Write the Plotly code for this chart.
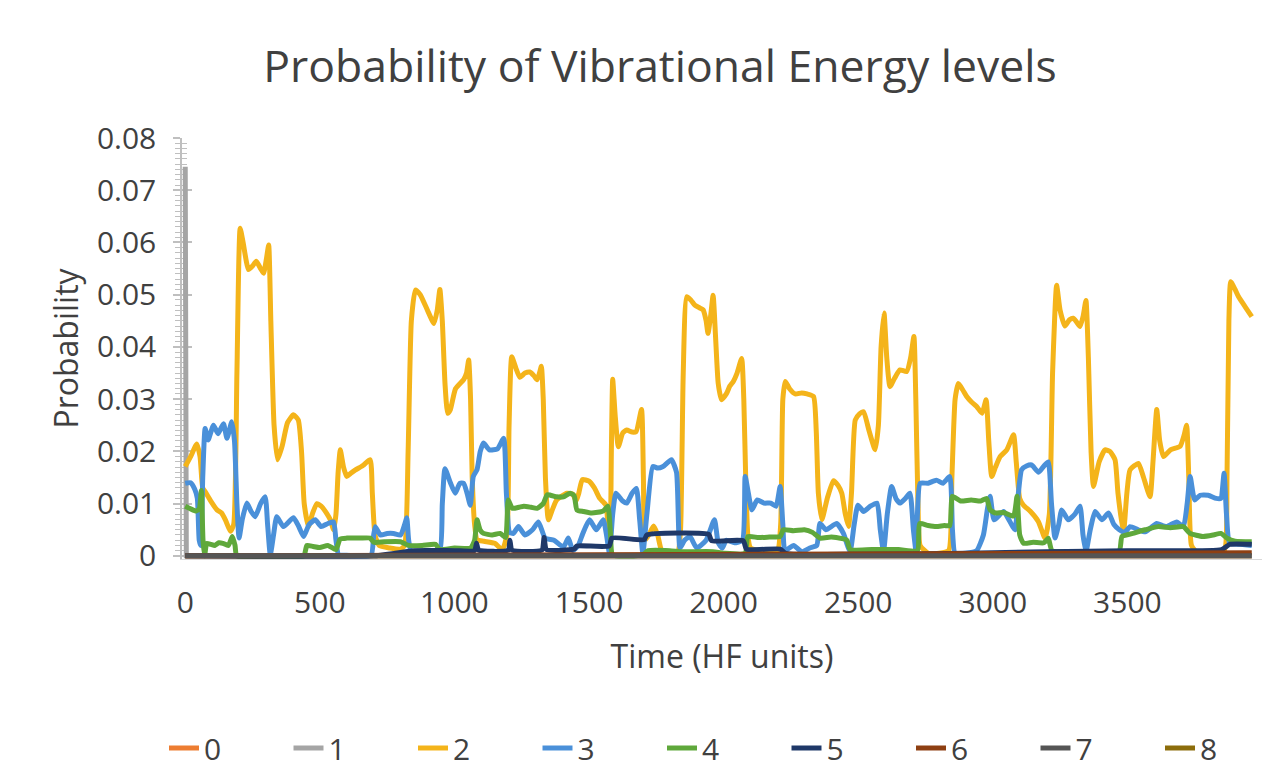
import plotly.graph_objects as go

# ---------------- data ----------------
levels = ["0", "1", "2", "3", "4", "5", "6", "7", "8"]
colors = ["#ED7D31", "#A5A5A5", "#F4B41A", "#4A90D9", "#5FA83B", "#1F3868", "#8E3F12", "#555555", "#8C6D0B"]

t_level0 = [0, 3962]
p_level0 = [0.0, 0.0]

t_level1 = [0, 4, 3962]
p_level1 = [0.0745, 0.0, 0.0]

t_level2 = [0, 20, 43, 55, 65, 75, 95, 118, 135, 150, 168, 180, 192, 204, 215, 235, 250, 264, 280, 291, 302, 310, 318, 330, 343, 360, 380, 402, 420, 432, 442, 458, 472, 489, 505, 526, 540, 551, 560, 568, 576, 588, 600, 615, 631, 660, 687, 695, 705, 720, 760, 800, 815, 828, 840, 855, 873, 900, 924, 936, 946, 955, 965, 975, 985, 1004, 1035, 1045, 1053, 1060, 1066, 1075, 1084, 1110, 1150, 1178, 1195, 1203, 1213, 1228, 1243, 1262, 1280, 1295, 1307, 1316, 1323, 1330, 1338, 1349, 1365, 1380, 1418, 1440, 1452, 1462, 1475, 1500, 1520, 1540, 1563, 1572, 1578, 1583, 1588, 1597, 1609, 1625, 1640, 1660, 1675, 1695, 1702, 1708, 1722, 1740, 1755, 1770, 1800, 1830, 1840, 1850, 1863, 1878, 1893, 1910, 1924, 1935, 1942, 1952, 1961, 1970, 1980, 1992, 2010, 2023, 2036, 2050, 2067, 2075, 2082, 2090, 2100, 2150, 2200, 2212, 2220, 2229, 2245, 2266, 2290, 2310, 2334, 2344, 2352, 2365, 2385, 2408, 2425, 2439, 2452, 2464, 2475, 2489, 2505, 2520, 2540, 2563, 2575, 2585, 2596, 2606, 2618, 2635, 2655, 2680, 2695, 2707, 2714, 2722, 2730, 2760, 2800, 2836, 2848, 2860, 2872, 2888, 2903, 2920, 2940, 2960, 2975, 2985, 2996, 3010, 3027, 3052, 3077, 3087, 3100, 3114, 3140, 3169, 3194, 3210, 3222, 3237, 3250, 3268, 3285, 3299, 3312, 3324, 3336, 3346, 3355, 3365, 3374, 3395, 3417, 3435, 3454, 3465, 3485, 3498, 3510, 3541, 3560, 3584, 3595, 3609, 3620, 3634, 3660, 3696, 3710, 3720, 3728, 3738, 3760, 3820, 3860, 3870, 3877, 3884, 3900, 3913, 3940, 3962]
p_level2 = [0.0171, 0.019, 0.0214, 0.019, 0.013, 0.0122, 0.0105, 0.0088, 0.0082, 0.0068, 0.0047, 0.006, 0.035, 0.0627, 0.060, 0.0548, 0.0555, 0.0564, 0.0550, 0.0541, 0.057, 0.0595, 0.045, 0.025, 0.0184, 0.021, 0.0255, 0.0270, 0.0260, 0.020, 0.010, 0.0056, 0.0080, 0.0100, 0.0095, 0.0081, 0.0068, 0.0050, 0.008, 0.016, 0.0203, 0.017, 0.0152, 0.0158, 0.0164, 0.0173, 0.0184, 0.012, 0.004, 0.002, 0.0015, 0.0013, 0.002, 0.02, 0.045, 0.0509, 0.0500, 0.0470, 0.0445, 0.047, 0.051, 0.045, 0.033, 0.0273, 0.028, 0.032, 0.0338, 0.035, 0.0375, 0.030, 0.015, 0.006, 0.0031, 0.0028, 0.0024, 0.0012, 0.004, 0.025, 0.0381, 0.036, 0.0342, 0.0350, 0.0352, 0.0345, 0.0337, 0.035, 0.0363, 0.030, 0.015, 0.0069, 0.009, 0.0107, 0.0120, 0.0118, 0.0105, 0.012, 0.0146, 0.0143, 0.013, 0.011, 0.0097, 0.004, 0.002, 0.02, 0.0338, 0.027, 0.0209, 0.0235, 0.0241, 0.0237, 0.0238, 0.028, 0.015, 0.003, 0.004, 0.0057, 0.004, 0.001, 0.0005, 0.0008, 0.005, 0.035, 0.0496, 0.0490, 0.048, 0.0475, 0.0471, 0.045, 0.0426, 0.046, 0.0499, 0.042, 0.033, 0.0299, 0.031, 0.0325, 0.0334, 0.035, 0.0378, 0.030, 0.015, 0.004, 0.0015, 0.0008, 0.001, 0.006, 0.030, 0.0334, 0.032, 0.031, 0.0312, 0.031, 0.0305, 0.024, 0.012, 0.0069, 0.011, 0.0144, 0.0135, 0.0120, 0.008, 0.0056, 0.012, 0.0260, 0.0272, 0.0276, 0.024, 0.0203, 0.025, 0.040, 0.0465, 0.038, 0.0324, 0.034, 0.0356, 0.0353, 0.038, 0.0420, 0.030, 0.010, 0.002, 0.0005, 0.0005, 0.001, 0.015, 0.030, 0.033, 0.0318, 0.0305, 0.0295, 0.0286, 0.0273, 0.0299, 0.022, 0.0152, 0.017, 0.019, 0.0203, 0.0232, 0.018, 0.011, 0.0097, 0.0085, 0.0066, 0.0034, 0.008, 0.035, 0.0518, 0.047, 0.0440, 0.0452, 0.0455, 0.0447, 0.0439, 0.046, 0.0489, 0.038, 0.020, 0.0133, 0.018, 0.0203, 0.020, 0.0184, 0.012, 0.0043, 0.012, 0.0165, 0.0177, 0.015, 0.0113, 0.018, 0.0280, 0.022, 0.019, 0.0203, 0.0210, 0.023, 0.0250, 0.015, 0.002, 0.0006, 0.0005, 0.001, 0.015, 0.045, 0.0525, 0.051, 0.0496, 0.0475, 0.0458]

t_level3 = [0, 20, 35, 45, 52, 58, 65, 74, 85, 105, 122, 142, 155, 173, 183, 192, 200, 212, 229, 245, 260, 280, 297, 306, 316, 328, 340, 365, 402, 420, 440, 460, 483, 505, 530, 551, 560, 570, 600, 690, 700, 706, 725, 750, 774, 800, 815, 823, 830, 840, 900, 945, 955, 965, 985, 1003, 1020, 1034, 1047, 1059, 1070, 1084, 1096, 1108, 1130, 1160, 1183, 1193, 1205, 1219, 1238, 1262, 1290, 1312, 1337, 1370, 1405, 1423, 1440, 1460, 1477, 1502, 1527, 1553, 1565, 1576, 1588, 1600, 1625, 1640, 1660, 1676, 1688, 1700, 1715, 1737, 1755, 1775, 1806, 1825, 1838, 1855, 1875, 1900, 1935, 1966, 1980, 1995, 2010, 2040, 2070, 2080, 2092, 2105, 2125, 2150, 2175, 2195, 2210, 2220, 2228, 2260, 2290, 2320, 2346, 2358, 2380, 2420, 2445, 2460, 2470, 2485, 2499, 2520, 2545, 2570, 2582, 2594, 2608, 2624, 2640, 2655, 2675, 2692, 2705, 2715, 2720, 2730, 2760, 2790, 2815, 2840, 2850, 2860, 2900, 2940, 2965, 2980, 2990, 3005, 3040, 3060, 3082, 3095, 3107, 3125, 3144, 3170, 3190, 3206, 3218, 3231, 3245, 3256, 3280, 3305, 3324, 3335, 3346, 3362, 3380, 3405, 3430, 3450, 3470, 3490, 3510, 3540, 3566, 3590, 3609, 3645, 3683, 3708, 3722, 3733, 3750, 3770, 3800, 3830, 3847, 3859, 3868, 3880, 3920, 3962]
p_level3 = [0.0139, 0.0140, 0.0128, 0.0110, 0.003, 0.002, 0.015, 0.0244, 0.0222, 0.0250, 0.0234, 0.0253, 0.0225, 0.0257, 0.022, 0.010, 0.0034, 0.007, 0.0101, 0.0085, 0.0075, 0.010, 0.0113, 0.006, 0.0002, 0.004, 0.0075, 0.0056, 0.0073, 0.0058, 0.0037, 0.0060, 0.0069, 0.0056, 0.0062, 0.0065, 0.003, 0.0002, 0.0001, 0.0001, 0.004, 0.0056, 0.0040, 0.0043, 0.0043, 0.0040, 0.006, 0.0073, 0.003, 0.0009, 0.0008, 0.0009, 0.010, 0.0167, 0.0140, 0.0120, 0.0139, 0.0139, 0.012, 0.0097, 0.0152, 0.0165, 0.020, 0.0216, 0.0203, 0.0205, 0.0225, 0.012, 0.0045, 0.0043, 0.0056, 0.0040, 0.0050, 0.0065, 0.0034, 0.0030, 0.0017, 0.0034, 0.0010, 0.002, 0.0043, 0.0069, 0.0050, 0.0069, 0.004, 0.0005, 0.008, 0.0120, 0.0105, 0.0101, 0.012, 0.0129, 0.007, 0.0005, 0.008, 0.0171, 0.0168, 0.0171, 0.0184, 0.016, 0.0015, 0.003, 0.0037, 0.0015, 0.003, 0.0069, 0.0025, 0.0015, 0.003, 0.0025, 0.003, 0.0152, 0.012, 0.0088, 0.0107, 0.0101, 0.0101, 0.0095, 0.0133, 0.006, 0.001, 0.002, 0.0008, 0.0015, 0.002, 0.0062, 0.0050, 0.0062, 0.0043, 0.002, 0.0008, 0.006, 0.0097, 0.0085, 0.0095, 0.0101, 0.005, 0.0008, 0.008, 0.0133, 0.011, 0.0101, 0.011, 0.0120, 0.005, 0.0008, 0.008, 0.0139, 0.0139, 0.0145, 0.0139, 0.0152, 0.005, 0.0005, 0.0005, 0.001, 0.004, 0.009, 0.0114, 0.0069, 0.0085, 0.0069, 0.0050, 0.012, 0.0165, 0.0172, 0.0174, 0.0160, 0.0172, 0.0180, 0.010, 0.0034, 0.006, 0.0088, 0.0069, 0.008, 0.0095, 0.004, 0.0008, 0.005, 0.0085, 0.0069, 0.0082, 0.006, 0.0050, 0.0045, 0.0056, 0.0050, 0.0046, 0.0055, 0.0062, 0.0056, 0.0065, 0.0056, 0.0100, 0.0152, 0.0107, 0.0116, 0.0116, 0.011, 0.0110, 0.0158, 0.008, 0.0024, 0.0022, 0.0020]

t_level4 = [0, 20, 40, 52, 60, 66, 72, 80, 95, 110, 125, 140, 160, 175, 185, 192, 440, 452, 475, 500, 530, 560, 575, 600, 650, 687, 700, 740, 800, 830, 880, 930, 945, 1000, 1060, 1075, 1084, 1095, 1108, 1140, 1170, 1190, 1200, 1215, 1240, 1258, 1285, 1307, 1330, 1345, 1380, 1405, 1430, 1445, 1455, 1480, 1510, 1553, 1570, 1580, 1588, 1700, 1720, 1800, 1840, 1960, 2000, 2080, 2090, 2130, 2170, 2210, 2222, 2260, 2300, 2330, 2358, 2400, 2440, 2458, 2470, 2550, 2650, 2720, 2728, 2760, 2790, 2820, 2840, 2850, 2880, 2920, 2955, 2977, 2990, 3010, 3040, 3077, 3090, 3100, 3114, 3150, 3190, 3206, 3220, 3300, 3400, 3470, 3480, 3520, 3566, 3614, 3660, 3708, 3733, 3780, 3820, 3847, 3870, 3900, 3962]
p_level4 = [0.0095, 0.0090, 0.0086, 0.0090, 0.0125, 0.003, 0.0, 0.0024, 0.0022, 0.0020, 0.0025, 0.0024, 0.0020, 0.0037, 0.002, 0.0, 0.0, 0.0020, 0.0018, 0.0016, 0.0020, 0.0012, 0.0032, 0.0034, 0.0034, 0.0034, 0.0026, 0.0027, 0.0027, 0.0020, 0.0020, 0.0022, 0.0012, 0.0015, 0.0015, 0.003, 0.0069, 0.005, 0.0043, 0.0040, 0.0043, 0.0035, 0.0107, 0.0091, 0.0093, 0.0095, 0.0093, 0.0091, 0.0100, 0.0117, 0.0113, 0.0113, 0.0120, 0.0115, 0.0088, 0.0085, 0.0082, 0.0086, 0.0095, 0.004, 0.0002, 0.0002, 0.001, 0.001, 0.0008, 0.0008, 0.0005, 0.0005, 0.0037, 0.0035, 0.0036, 0.0037, 0.0050, 0.0048, 0.0050, 0.0045, 0.0034, 0.0036, 0.0033, 0.0030, 0.0012, 0.0012, 0.0012, 0.0010, 0.0062, 0.0058, 0.0056, 0.0058, 0.0058, 0.0114, 0.0105, 0.0107, 0.0105, 0.0110, 0.0088, 0.0082, 0.0083, 0.0076, 0.0114, 0.004, 0.0024, 0.0026, 0.0025, 0.0034, 0.0010, 0.0008, 0.0008, 0.0010, 0.0037, 0.0043, 0.0050, 0.0056, 0.0054, 0.0056, 0.0043, 0.0037, 0.0040, 0.0043, 0.0034, 0.0028, 0.0027]

t_level5 = [0, 700, 780, 850, 1000, 1075, 1082, 1090, 1200, 1206, 1214, 1325, 1333, 1342, 1445, 1455, 1575, 1585, 1705, 1715, 1945, 1955, 2073, 2085, 2210, 2230, 2500, 2900, 3200, 3500, 3850, 3880, 3962]
p_level5 = [0.0, 0.0, 0.0005, 0.0010, 0.0010, 0.0010, 0.0024, 0.0011, 0.0011, 0.0030, 0.0011, 0.0011, 0.0035, 0.0012, 0.0013, 0.0019, 0.0019, 0.0034, 0.0031, 0.0040, 0.0041, 0.0029, 0.0029, 0.0013, 0.0013, 0.0005, 0.0003, 0.0005, 0.0008, 0.0010, 0.0012, 0.0022, 0.0022]

t_level6 = [0, 1500, 2000, 3000, 3962]
p_level6 = [0.0, 0.0002, 0.0004, 0.0006, 0.0006]

t_level7 = [0, 3962]
p_level7 = [0.0, 0.0]

t_level8 = [0, 3962]
p_level8 = [0.0, 0.0]

x_ticks = [0, 500, 1000, 1500, 2000, 2500, 3000, 3500, 4000]
y_ticks = [0, 0.01, 0.02, 0.03, 0.04, 0.05, 0.06, 0.07, 0.08]
y_tick_text = ["0", "0.01", "0.02", "0.03", "0.04", "0.05", "0.06", "0.07", "0.08"]

series_t = [t_level0, t_level1, t_level2, t_level3, t_level4, t_level5, t_level6, t_level7, t_level8]
series_p = [p_level0, p_level1, p_level2, p_level3, p_level4, p_level5, p_level6, p_level7, p_level8]

FONT = "Open Sans"
TXT = "#404040"

fig = go.Figure()
draw_order = [0, 8, 1, 2, 3, 4, 5, 6, 7]
smooth_levels = {2, 3, 4, 5}
for i in draw_order:
    if i in smooth_levels:
        line = dict(color=colors[i], width=5, shape="spline", smoothing=0.5)
    else:
        line = dict(color=colors[i], width=5, shape="linear")
    fig.add_trace(go.Scatter(
        x=series_t[i], y=series_p[i], name=levels[i], mode="lines",
        line=line, legendrank=i + 1,
    ))

fig.update_layout(
    width=1278, height=769,
    margin=dict(l=182, r=16, t=138, b=210, autoexpand=False),
    paper_bgcolor="white", plot_bgcolor="white",
    font=dict(family=FONT, color=TXT, size=30),
    title=dict(text="Probability of Vibrational Energy levels",
               x=660 / 1278, xanchor="center", xref="container",
               y=1 - 66 / 769, yanchor="middle", yref="container",
               font=dict(size=44.5, color=TXT, family=FONT)),
    showlegend=True,
    legend=dict(orientation="h", xref="paper", yref="paper",
                x=(164 - 182) / 1080, xanchor="left", y=(559 - 748) / 421, yanchor="middle",
                entrywidth=79.5, entrywidthmode="pixels",
                font=dict(size=30, color=TXT, family=FONT),
                traceorder="normal", itemwidth=30),
    xaxis=dict(range=[-12, 4000], tickvals=x_ticks, ticktext=[str(v) for v in x_ticks],
               showgrid=False, zeroline=False, showline=True, linecolor="#d9d9d9",
               ticks="", ticklabelstandoff=17, layer="below traces",
               tickfont=dict(size=30, color=TXT, family=FONT),
               title=dict(text="Time (HF units)", standoff=24,
                          font=dict(size=32, color=TXT, family=FONT))),
    yaxis=dict(range=[-0.0006, 0.08], tickvals=y_ticks, ticktext=y_tick_text,
               showgrid=False, zeroline=False, showline=True, linecolor="#bfbfbf", linewidth=1.5,
               ticks="outside", ticklen=7, tickcolor="#bfbfbf", tickwidth=1.5,
               minor=dict(dtick=0.001, ticks="outside", ticklen=5, tickcolor="#bfbfbf", tickwidth=1.2),
               ticklabelstandoff=11, layer="below traces",
               tickfont=dict(size=30, color=TXT, family=FONT),
               title=dict(text="Probability", standoff=9,
                          font=dict(size=32, color=TXT, family=FONT))),
    yaxis2=dict(range=[-0.0006, 0.08], overlaying="y", side="left", showgrid=False, zeroline=False,
                showticklabels=False, tickvals=y_ticks, ticks="inside", ticklen=10,
                tickcolor="#bfbfbf", tickwidth=1.5, layer="below traces",
                minor=dict(dtick=0.001, ticks="inside", ticklen=5, tickcolor="#bfbfbf", tickwidth=1.2)),
)

# invisible helper so the inside-tick overlay axis is rendered
fig.add_trace(go.Scatter(x=[0], y=[0], yaxis="y2", mode="lines", showlegend=False,
                         hoverinfo="skip", line=dict(color="rgba(0,0,0,0)")))

fig.write_html("out.html")
